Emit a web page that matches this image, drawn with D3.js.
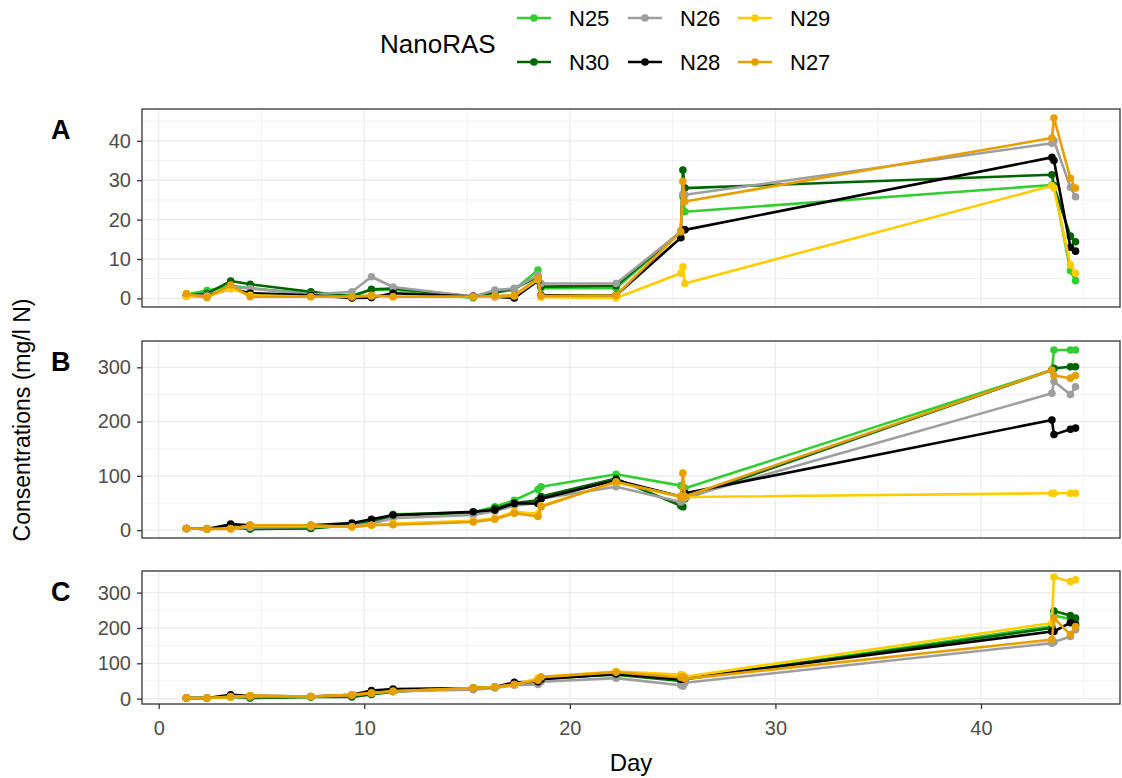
<!DOCTYPE html>
<html>
<head>
<meta charset="utf-8">
<script src="https://cdn.jsdelivr.net/npm/d3@7/dist/d3.min.js"></script>
<style>
  body { margin: 0; background: #ffffff; }
  text { font-family: "Liberation Sans", Arial, sans-serif; }
</style>
</head>
<body>
<svg id="chart" width="1122" height="778"></svg>
<script>
// Sampling days (some samples taken twice on the same day)
const days = [1.35, 2.35, 3.5, 4.45, 7.4, 9.4, 10.35, 11.4, 15.3, 16.35, 17.3,
              18.45, 18.6, 22.25, 25.4, 25.5, 25.6, 43.45, 43.55, 44.35, 44.6];

// Legend order (filled column-wise into two rows)
const seriesNames  = ["N25", "N30", "N26", "N28", "N29", "N27"];
const seriesColors = ["#32CD32", "#006400", "#9E9E9E", "#000000", "#FFCC00", "#E69F00"];

// Panel A concentrations (mg/l N)
const panelA_N25 = [1.0, 2.0, 3.2, 2.6, 1.2, 0.8, 2.2, 2.2, 0.1, 1.5, 2.2, 7.2, 2.6, 2.6, 16.9, 25.9, 22.0, 28.8, 28.8, 7.0, 4.5];
const panelA_N30 = [0.8, 1.2, 4.4, 3.6, 1.7, 0.5, 2.3, 2.5, 0.5, 1.5, 2.5, 5.5, 3.0, 3.2, 16.9, 32.6, 28.0, 31.4, 28.5, 15.8, 14.4];
const panelA_N26 = [0.8, 0.8, 2.9, 2.5, 1.0, 1.7, 5.5, 2.9, 0.5, 2.1, 2.5, 5.9, 3.8, 3.8, 16.9, 26.5, 26.3, 39.4, 40.0, 28.2, 25.8];
const panelA_N28 = [0.6, 0.6, 2.5, 1.3, 0.8, 0.1, 0.2, 1.3, 0.5, 0.4, 0.1, 4.5, 0.8, 0.8, 15.4, 17.4, 17.4, 35.8, 35.0, 13.0, 12.0];
const panelA_N29 = [0.5, 0.5, 2.5, 0.8, 0.4, 0.4, 0.6, 0.4, 0.4, 0.4, 0.6, 4.8, 0.3, 0.1, 6.4, 8.0, 3.8, 28.6, 28.0, 8.5, 6.4];
const panelA_N27 = [1.2, 0.2, 3.4, 0.4, 0.4, 0.4, 0.8, 0.4, 0.4, 0.6, 0.8, 5.1, 0.6, 0.8, 16.9, 29.7, 24.6, 40.7, 45.8, 30.5, 28.0];

// Panel B concentrations (mg/l N)
const panelB_N25 = [3, 3, 4, 2, 4, 8, 14, 29, 33, 43, 55, 75, 80, 103, 82, 80, 77, 295, 332, 332, 332];
const panelB_N30 = [3, 2, 6, 2, 3, 10, 15, 27, 32, 40, 50, 55, 62, 95, 45, 43, 58, 295, 298, 301, 301];
const panelB_N26 = [3, 2, 4, 5, 6, 8, 12, 22, 28, 35, 45, 50, 58, 80, 52, 55, 60, 252, 274, 250, 264];
const panelB_N28 = [3, 2, 11, 9, 9, 13, 20, 28, 34, 37, 49, 49, 58, 92, 62, 65, 68, 203, 176, 186, 188];
const panelB_N29 = [3, 2, 3, 8, 8, 6, 9, 12, 17, 22, 34, 30, 45, 88, 62, 62, 61, 68, 68, 68, 68];
const panelB_N27 = [3, 2, 2, 9, 9, 6, 9, 10, 15, 20, 31, 25, 43, 89, 61, 105, 62, 295, 285, 280, 285];

// Panel C concentrations (mg/l N)
const panelC_N25 = [2, 2, 5, 2, 5, 10, 16, 21, 30, 33, 40, 50, 55, 70, 52, 49, 55, 205, 235, 225, 220];
const panelC_N30 = [2, 2, 6, 2, 5, 5, 12, 20, 30, 32, 42, 52, 58, 68, 50, 48, 55, 200, 248, 235, 228];
const panelC_N26 = [2, 2, 5, 5, 6, 10, 16, 21, 25, 30, 38, 40, 48, 58, 38, 35, 45, 157, 160, 176, 195];
const panelC_N28 = [2, 2, 11, 8, 6, 11, 23, 27, 30, 33, 46, 48, 55, 70, 55, 55, 57, 190, 190, 215, 209];
const panelC_N29 = [2, 2, 5, 8, 6, 11, 16, 21, 30, 33, 40, 58, 62, 77, 68, 66, 62, 214, 344, 331, 336];
const panelC_N27 = [2, 2, 5, 8, 6, 10, 16, 21, 30, 33, 40, 52, 61, 75, 60, 62, 56, 167, 228, 181, 204];

// Tick values
const xTicks  = [0, 10, 20, 30, 40];
const xMinor  = [5, 15, 25, 35, 45];
const aTicks  = [0, 10, 20, 30, 40];
const aMinor  = [5, 15, 25, 35, 45];
const bTicks  = [0, 100, 200, 300];
const bMinor  = [50, 150, 250];
const cTicks  = [0, 100, 200, 300];
const cMinor  = [50, 150, 250, 350];

const panels = [
  { tag: "A", top: 109, bottom: 307, ticks: aTicks, minor: aMinor,
    series: [panelA_N25, panelA_N30, panelA_N26, panelA_N28, panelA_N29, panelA_N27] },
  { tag: "B", top: 341, bottom: 538, ticks: bTicks, minor: bMinor,
    series: [panelB_N25, panelB_N30, panelB_N26, panelB_N28, panelB_N29, panelB_N27] },
  { tag: "C", top: 571, bottom: 704, ticks: cTicks, minor: cMinor,
    series: [panelC_N25, panelC_N30, panelC_N26, panelC_N28, panelC_N29, panelC_N27] }
];

const svg = d3.select("#chart");
const left = 142, right = 1120;
const lineW = 2.6, pointR = 3.8;

function expand(lo, hi) {
  const pad = (hi - lo) * 0.05;
  return [lo - pad, hi + pad];
}

const x = d3.scaleLinear().domain(expand(d3.min(days), d3.max(days))).range([left, right]);

panels.forEach((p, pi) => {
  const all = p.series.flat();
  const y = d3.scaleLinear().domain(expand(d3.min(all), d3.max(all))).range([p.bottom, p.top]);
  const g = svg.append("g");

  // panel background
  g.append("rect").attr("x", left).attr("y", p.top)
    .attr("width", right - left).attr("height", p.bottom - p.top).attr("fill", "#ffffff");

  // minor grid
  g.selectAll(".gxm").data(xMinor).join("line")
    .attr("x1", d => x(d)).attr("x2", d => x(d)).attr("y1", p.top).attr("y2", p.bottom)
    .attr("stroke", "#EBEBEB").attr("stroke-width", 0.7);
  g.selectAll(".gym").data(p.minor.filter(v => y(v) > p.top && y(v) < p.bottom)).join("line")
    .attr("x1", left).attr("x2", right).attr("y1", d => y(d)).attr("y2", d => y(d))
    .attr("stroke", "#EBEBEB").attr("stroke-width", 0.7);
  // major grid
  g.selectAll(".gx").data(xTicks).join("line")
    .attr("x1", d => x(d)).attr("x2", d => x(d)).attr("y1", p.top).attr("y2", p.bottom)
    .attr("stroke", "#EBEBEB").attr("stroke-width", 1.3);
  g.selectAll(".gy").data(p.ticks).join("line")
    .attr("x1", left).attr("x2", right).attr("y1", d => y(d)).attr("y2", d => y(d))
    .attr("stroke", "#EBEBEB").attr("stroke-width", 1.3);

  // series lines and points
  const line = d3.line().x(d => x(d[0])).y(d => y(d[1]));
  p.series.forEach((vals, si) => {
    const pts = days.map((d, i) => [d, vals[i]]);
    g.append("path").datum(pts).attr("d", line)
      .attr("fill", "none").attr("stroke", seriesColors[si]).attr("stroke-width", lineW)
      .attr("stroke-linejoin", "round");
    g.selectAll(null).data(pts).join("circle")
      .attr("cx", d => x(d[0])).attr("cy", d => y(d[1])).attr("r", pointR)
      .attr("fill", seriesColors[si]);
  });

  // border
  g.append("rect").attr("x", left).attr("y", p.top)
    .attr("width", right - left).attr("height", p.bottom - p.top)
    .attr("fill", "none").attr("stroke", "#333333").attr("stroke-width", 1.3);

  // y axis
  const yAxis = d3.axisLeft(y).tickValues(p.ticks).tickSize(5).tickPadding(6).tickSizeOuter(0);
  const ya = g.append("g").attr("transform", `translate(${left},0)`).call(yAxis);
  ya.select(".domain").remove();
  ya.selectAll(".tick line").attr("stroke", "#333333").attr("stroke-width", 1.3);
  ya.selectAll(".tick text").attr("fill", "#4D4D4D").style("font-size", "20px")
    .style("font-family", "Liberation Sans, Arial, sans-serif");

  // x axis on the bottom panel only
  if (pi === panels.length - 1) {
    const xAxis = d3.axisBottom(x).tickValues(xTicks).tickSize(5).tickPadding(12).tickSizeOuter(0);
    const xa = g.append("g").attr("transform", `translate(0,${p.bottom})`).call(xAxis);
    xa.select(".domain").remove();
    xa.selectAll(".tick line").attr("stroke", "#333333").attr("stroke-width", 1.3);
    xa.selectAll(".tick text").attr("fill", "#4D4D4D").style("font-size", "20px")
      .style("font-family", "Liberation Sans, Arial, sans-serif");
  }

  // panel tag
  svg.append("text").attr("x", 51).attr("y", p.top + 30).text(p.tag)
    .style("font-size", "27px").style("font-weight", "bold").attr("fill", "#000");
});

// axis titles
svg.append("text").attr("x", 631).attr("y", 771).attr("text-anchor", "middle")
  .style("font-size", "24px").attr("fill", "#000").text("Day");
svg.append("text").attr("transform", "translate(30,420) rotate(-90)").attr("text-anchor", "middle")
  .style("font-size", "23px").attr("fill", "#000").text("Consentrations (mg/l N)");

// legend
const legend = svg.append("g");
legend.append("text").attr("x", 380).attr("y", 53).style("font-size", "26px")
  .attr("fill", "#000").text("NanoRAS");
const colX = [517, 628, 738];
const rowY = [18, 62];
seriesNames.forEach((name, i) => {
  const col = Math.floor(i / 2), row = i % 2;
  const kx = colX[col], ky = rowY[row];
  legend.append("line").attr("x1", kx).attr("x2", kx + 34).attr("y1", ky).attr("y2", ky)
    .attr("stroke", seriesColors[i]).attr("stroke-width", lineW);
  legend.append("circle").attr("cx", kx + 17).attr("cy", ky).attr("r", pointR).attr("fill", seriesColors[i]);
  legend.append("text").attr("x", kx + 52).attr("y", ky + 8).style("font-size", "22px")
    .attr("fill", "#000").text(name);
});
</script>
</body>
</html>
